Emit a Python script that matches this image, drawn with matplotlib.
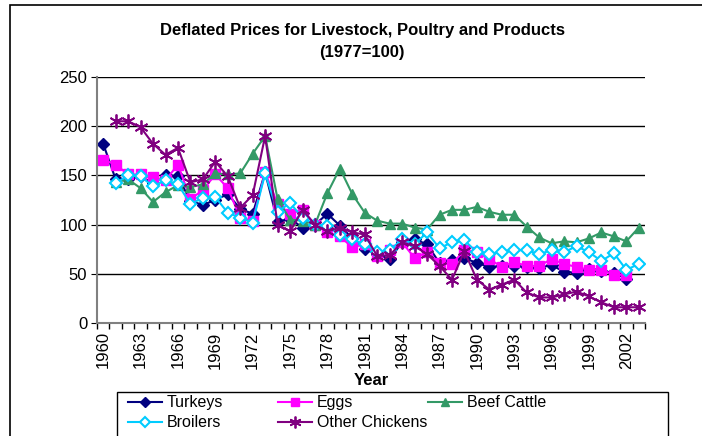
import matplotlib.pyplot as plt
import numpy as np
from matplotlib.lines import Line2D
from matplotlib.patches import Rectangle

plt.rcParams['font.family'] = ['Liberation Sans', 'DejaVu Sans']

years = list(range(1960, 2004))

turkeys = [182, 146, 146, 149, 142, 150, 149, 124, 120, 125, 131, 116, 111, 153, 103,
           106, 97, 100, 111, 99, 86, 75, 70, 65, 82, 85, 80, 61, 64, 66,
           61, 57, 58, 58, 57, 56, 59, 52, 51, 55, 53, 51, 45, None]
eggs = [166, 161, 151, 151, 148, 145, 161, 126, 135, 151, 137, 107, 104, 153, 121,
        111, 115, 100, 92, 88, 77, 80, 68, 74, 82, 66, 72, 61, 60, 74,
        72, 65, 57, 62, 58, 58, 65, 60, 57, 54, 54, 49, 49, None]
beef_cattle = [None, 143, 146, 137, 123, 133, 140, 138, 141, 152, 151, 152, 172, 190, 126,
               105, 104, 100, 132, 157, 131, 112, 104, 101, 101, 97, 95, 110, 115, 115,
               118, 113, 110, 110, 98, 87, 81, 83, 82, 86, 92, 88, 83, 97]
broilers = [None, 142, 150, 149, 139, 145, 141, 121, 127, 128, 112, 107, 102, 152, 113,
            122, 107, 100, 99, 89, 85, 80, 72, 74, 85, 80, 92, 76, 82, 84,
            72, 70, 72, 74, 74, 70, 74, 72, 78, 72, 63, 71, 54, 60]
other_chickens = [None, 205, 205, 199, 182, 171, 178, 143, 146, 164, 149, 117, 130, 190, 100,
                  93, 115, 100, 93, 97, 92, 90, 68, 69, 82, 78, 70, 58, 44, 73,
                  44, 34, 39, 44, 31, 26, 26, 29, 32, 27, 21, 16, 16, 16]

W, H = 702, 436
fig = plt.figure(figsize=(W / 100, H / 100), dpi=100)
ax = fig.add_axes([97 / W, 1 - 323 / H, (645 - 97) / W, (323 - 77) / H])

x = np.arange(len(years))
series = [
    ('Turkeys', turkeys, dict(color='#000080', marker='D', markersize=6)),
    ('Eggs', eggs, dict(color='#FF00FF', marker='s', markersize=6.5)),
    ('Beef Cattle', beef_cattle, dict(color='#339966', marker='^', markersize=7.5)),
    ('Broilers', broilers, dict(color='#00CCFF', marker='D', markersize=6,
                                markerfacecolor='white', markeredgewidth=1.5)),
    ('Other Chickens', other_chickens, dict(color='#800080', marker=(6, 2, 0),
                                            markersize=10, markeredgewidth=1.3)),
]
for name, vals, style in series:
    ax.plot(x, np.array(vals, dtype=float), lw=1.5, **style)

ax.set_xlim(-0.5, len(years) - 0.5)
ax.set_ylim(0, 250)
ax.set_yticks(range(0, 251, 50))
ax.yaxis.grid(True, color='black', lw=1)
ax.set_axisbelow(True)

# labels every 3 years, tick marks between categories
ax.set_xticks(x[::3])
ax.set_xticklabels([str(y) for y in years[::3]], rotation=90, fontsize=12)
ax.set_xticks(np.arange(-0.5, len(years)), minor=True)
ax.tick_params(axis='x', which='major', length=0, pad=6)
ax.tick_params(axis='x', which='minor', length=4, color='black', width=1)
ax.tick_params(axis='y', length=4, color='black', labelsize=12, pad=3)

for side in ['top', 'right']:
    ax.spines[side].set_visible(False)
for side in ['left', 'bottom']:
    ax.spines[side].set_color('#808080')
    ax.spines[side].set_linewidth(1.5)

fig.text(362 / W, 1 - 30 / H, 'Deflated Prices for Livestock, Poultry and Products',
         ha='center', va='center', fontsize=12, fontweight='bold')
fig.text(362 / W, 1 - 52 / H, '(1977=100)', ha='center', va='center',
         fontsize=12, fontweight='bold')
fig.text(371 / W, 1 - 380 / H, 'Year', ha='center', va='center',
         fontsize=12, fontweight='bold')

# legend laid out like Excel: equal-width columns, row by row
fig.patches.append(Rectangle((117 / W, -0.05), (668 - 117) / W, 0.05 + 1 - 392 / H,
                             transform=fig.transFigure, fill=False,
                             edgecolor='black', lw=1))
for i, (name, vals, style) in enumerate(series):
    col, row = i % 3, i // 3
    x0 = 128 + 150 * col
    y0 = 1 - (402 + 20 * row) / H
    fig.lines.append(Line2D([x0 / W, (x0 + 34) / W], [y0, y0], lw=1.5,
                            transform=fig.transFigure, color=style['color']))
    mstyle = {k: v for k, v in style.items() if k != 'color'}
    mstyle['markersize'] = style['markersize'] * 0.85
    fig.lines.append(Line2D([(x0 + 17) / W], [y0], transform=fig.transFigure,
                            color=style['color'], linestyle='none', **mstyle))
    fig.text((x0 + 39) / W, y0, name, ha='left', va='center', fontsize=11.5)

fig.patches.append(Rectangle((10 / W, -0.1), 1.2, 1 - 5 / H + 0.1,
                             transform=fig.transFigure, fill=False,
                             edgecolor='black', lw=1.2))

fig.savefig('out.png', dpi=100)
